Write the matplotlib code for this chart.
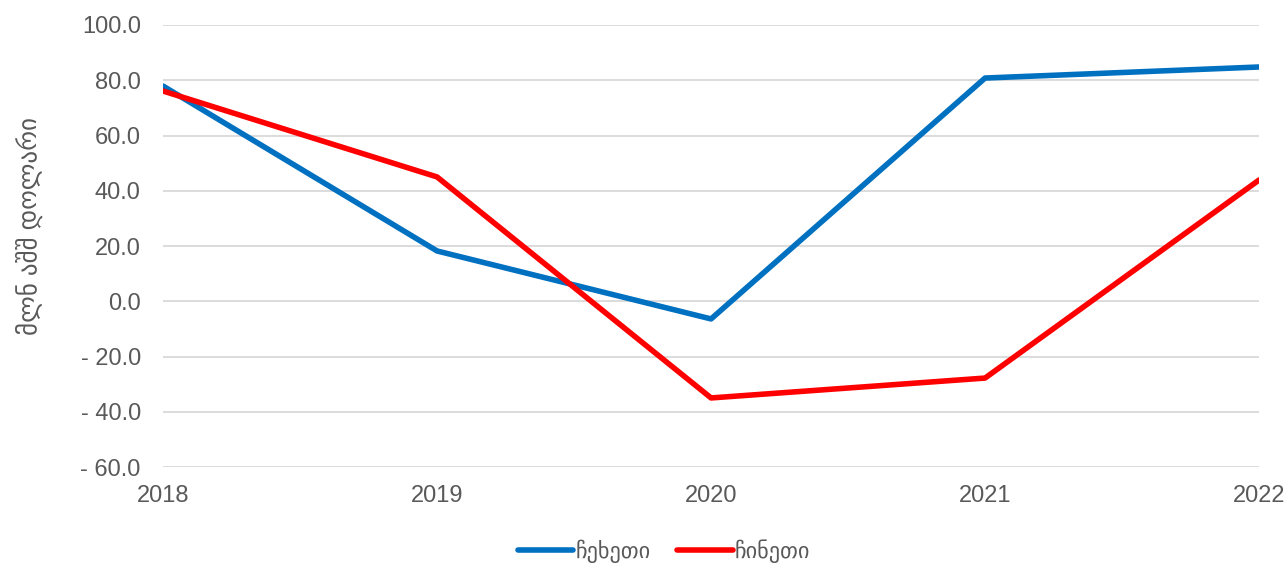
import matplotlib
matplotlib.use("Agg")
import matplotlib.pyplot as plt
from matplotlib.ticker import FuncFormatter

plt.rcParams['font.family'] = ['Liberation Sans', 'DejaVu Sans']

years = [2018, 2019, 2020, 2021, 2022]
czech = [77.9, 18.2, -6.4, 80.8, 84.8]
china = [76.1, 45.0, -35.0, -27.8, 43.9]
series_names = ["ჩეხეთი", "ჩინეთი"]
y_label = "მლნ აშშ დოლარი"

fig = plt.figure(figsize=(12.87, 5.63), dpi=100)
ax = fig.add_axes([0.1267, 0.1705, 0.8516, 0.7851])

ax.plot(years, czech, color="#0070C0", linewidth=4, label=series_names[0], solid_capstyle="round")
ax.plot(years, china, color="#FF0000", linewidth=4, label=series_names[1], solid_capstyle="round")

ax.set_xlim(2018, 2022)
ax.set_ylim(-60, 100)
ax.set_yticks(range(-60, 101, 20))
ax.set_xticks(years)


def fmt(v, pos):
    if v < 0:
        return f"- {abs(v):.1f}"
    return f"{v:.1f}"


ax.yaxis.set_major_formatter(FuncFormatter(fmt))
ax.grid(axis="y", color="#D9D9D9", linewidth=1.3)
ax.set_axisbelow(True)
for s in ax.spines.values():
    s.set_visible(False)
ax.tick_params(length=0, labelsize=17, colors="#595959")
ax.tick_params(axis="y", pad=16)
ax.tick_params(axis="x", pad=13)
ax.set_ylabel(y_label, fontsize=18, color="#595959", labelpad=28)
ax.yaxis.set_label_coords(-0.11, 0.545)

fig.legend(loc="lower center", bbox_to_anchor=(0.516, -0.035), ncol=2, frameon=False,
           fontsize=16, handlelength=2.5, handletextpad=0.1, columnspacing=1.2,
           labelcolor="#595959")

fig.savefig("out.png", dpi=100)
